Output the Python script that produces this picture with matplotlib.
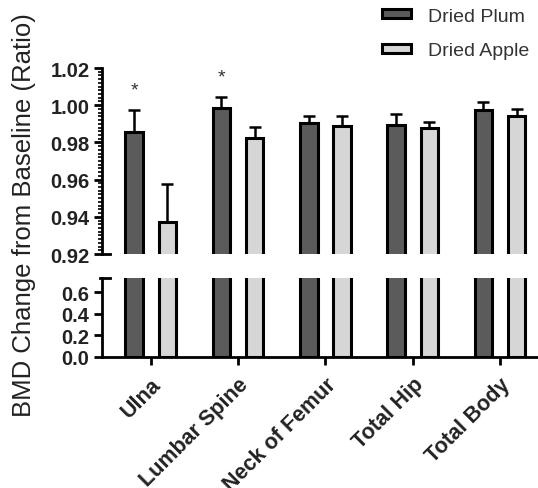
import matplotlib
matplotlib.use("Agg")
import matplotlib.pyplot as plt
import numpy as np
from matplotlib.patches import Patch
from matplotlib.ticker import MultipleLocator

plt.rcParams['font.family'] = ['Liberation Sans', 'DejaVu Sans']

categories = ["Ulna", "Lumbar Spine", "Neck of Femur", "Total Hip", "Total Body"]
plum = [0.9857, 0.9985, 0.9904, 0.9894, 0.9974]
plum_err = [0.0117, 0.0057, 0.0040, 0.0059, 0.0042]
apple = [0.9370, 0.9824, 0.9887, 0.9877, 0.9944]
apple_err = [0.0206, 0.0057, 0.0057, 0.0034, 0.0036]
star_y = [1.0083, 1.0150]  # significance markers over Dried Plum bars (Ulna, Lumbar Spine)
series_names = ["Dried Plum", "Dried Apple"]

plum_color = "#5b5b5b"
apple_color = "#d6d6d6"

W, H = 538, 489
fig = plt.figure(figsize=(W / 100, H / 100), dpi=100)

left = 102 / W
width = 1 - left
ax_top = fig.add_axes([left, 1 - 255 / H, width, (255 - 69) / H])
ax_bot = fig.add_axes([left, 1 - 358 / H, width, (358 - 279) / H])

x = np.arange(len(categories))
off = 0.19
bw = 0.2
lw = 2.2

for ax in (ax_top, ax_bot):
    ax.bar(x - off, plum, bw, color=plum_color, edgecolor="black", linewidth=lw, zorder=2)
    ax.bar(x + off, apple, bw, color=apple_color, edgecolor="black", linewidth=lw, zorder=2)
    ax.set_xlim(-0.558, 4.435)
    for s in ("top", "right"):
        ax.spines[s].set_visible(False)
    ax.spines["left"].set_linewidth(2)
    ax.spines["bottom"].set_linewidth(2)

ax_top.errorbar(x - off, plum, yerr=[np.zeros(5), plum_err], fmt="none", ecolor="black",
                elinewidth=1.8, capsize=4, capthick=1.8, zorder=1)
ax_top.errorbar(x + off, apple, yerr=[np.zeros(5), apple_err], fmt="none", ecolor="black",
                elinewidth=1.8, capsize=4, capthick=1.8, zorder=1)
for i, yy in enumerate(star_y):
    ax_top.text(x[i] - off, yy, "*", ha="center", va="center", fontsize=14, color="#333333")

ax_top.set_ylim(0.92, 1.02)
ax_top.spines["bottom"].set_visible(False)
ax_top.set_xticks([])
ax_top.yaxis.set_minor_locator(MultipleLocator(0.002))
ax_top.set_yticks(np.arange(0.92, 1.021, 0.02))
ax_top.set_yticklabels(["%.2f" % v for v in np.arange(0.92, 1.021, 0.02)])
ax_top.tick_params(axis="y", which="major", length=6, width=2, labelsize=14.5, pad=3)
ax_top.tick_params(axis="y", which="minor", length=3, width=1.2)

ax_bot.set_ylim(0, 0.73)
ax_bot.set_yticks([0.0, 0.2, 0.4, 0.6])
ax_bot.set_yticklabels(["0.0", "0.2", "0.4", "0.6"])
ax_bot.tick_params(axis="y", length=6, width=2, labelsize=14.5, pad=3)
ax_bot.set_xticks(x)
ax_bot.set_xticklabels(categories, rotation=45, ha="right", rotation_mode="anchor")
ax_bot.tick_params(axis="x", length=6, width=2, labelsize=15.5, pad=6)

for lab in ax_top.get_yticklabels() + ax_bot.get_yticklabels() + ax_bot.get_xticklabels():
    lab.set_fontweight("bold")
    lab.set_color("#222222")

# break markers (short inward caps at the axis break)
ax_top.plot([0, 0.018], [0, 0], transform=ax_top.transAxes, color="black", lw=2, clip_on=False)
ax_bot.plot([-0.005, 0.018], [1, 1], transform=ax_bot.transAxes, color="black", lw=2, clip_on=False)

fig.text(24 / W, 1 - 215 / H, "BMD Change from Baseline (Ratio)", rotation=90,
         ha="center", va="center", fontsize=18.5, color="#222222")

handles = [Patch(facecolor=plum_color, edgecolor="black", linewidth=2.2),
           Patch(facecolor=apple_color, edgecolor="black", linewidth=2.2)]
fig.legend(handles, series_names, loc="upper left", bbox_to_anchor=(364 / W, 1.018),
           frameon=False, fontsize=14, handlelength=1.5, handleheight=0.35,
           handletextpad=0.9, labelspacing=0.9, labelcolor="#333333")

fig.savefig("out.png", dpi=100)
